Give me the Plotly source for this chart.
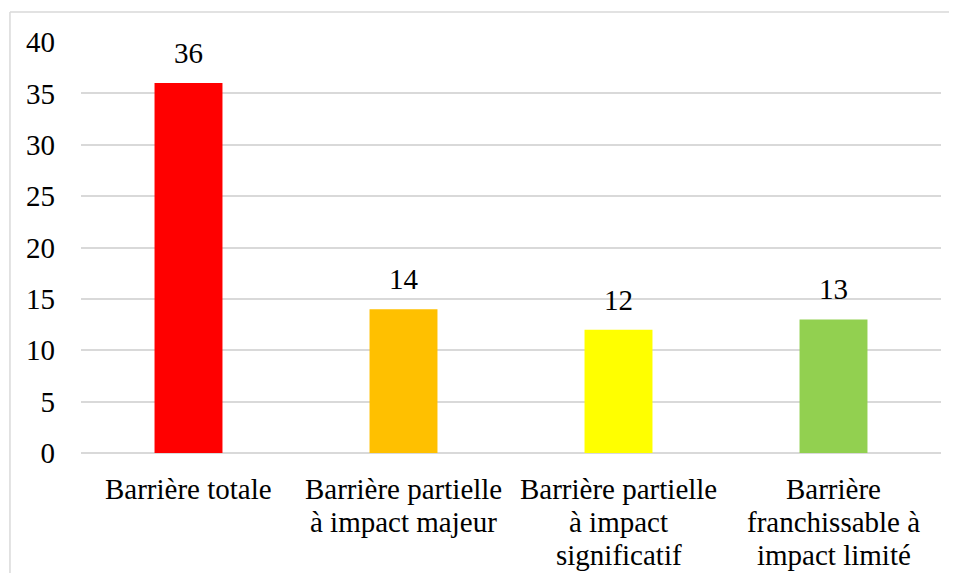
import plotly.graph_objects as go

categories = [
    "Barrière totale",
    "Barrière partielle<br>à impact majeur",
    "Barrière partielle<br>à impact<br>significatif",
    "Barrière<br>franchissable à<br>impact limité",
]
values = [36, 14, 12, 13]
bar_colors = ["#FF0000", "#FFC000", "#FFFF00", "#92D050"]
y_ticks = [0, 5, 10, 15, 20, 25, 30, 35, 40]

FONT = "Liberation Serif, Times New Roman, serif"
GRID = "#D9D9D9"

fig = go.Figure()
fig.add_trace(go.Bar(
    x=categories,
    y=values,
    marker=dict(color=bar_colors, line=dict(width=0)),
    hoverinfo="skip",
))

# value labels above bars
for cat, v in zip(categories, values):
    fig.add_annotation(
        x=cat, y=v, text=str(v),
        showarrow=False, yanchor="bottom", yshift=12,
        font=dict(family=FONT, size=29, color="black"),
    )

# category labels, one annotation per line (tighter line spacing, like Excel)
for cat in categories:
    for i, line in enumerate(cat.split("<br>")):
        fig.add_annotation(
            x=cat, y=0, yref="paper", text=line,
            showarrow=False, yanchor="middle", yshift=-36 - 33 * i,
            font=dict(family=FONT, size=29, color="black"),
        )

fig.update_layout(
    width=941,
    height=565,
    margin=dict(l=73, r=8, t=34, b=120),
    paper_bgcolor="white",
    plot_bgcolor="white",
    bargap=0.684,
    showlegend=False,
    font=dict(family=FONT, size=29, color="black"),
    xaxis=dict(
        showgrid=False,
        showline=False,
        ticks="",
        showticklabels=False,
    ),
    yaxis=dict(
        range=[0, 40],
        tickvals=y_ticks,
        showgrid=True,
        gridcolor=GRID,
        gridwidth=1.5,
        zeroline=True,
        zerolinecolor=GRID,
        zerolinewidth=1.5,
        showline=False,
        ticks="",
        ticklabelstandoff=25,
        tickfont=dict(family=FONT, size=29, color="black"),
    ),
    shapes=[
        dict(type="line", xref="paper", yref="paper",
             x0=-0.0826, x1=1.05, y0=1.073, y1=1.073,
             line=dict(color=GRID, width=1.5)),
        dict(type="line", xref="paper", yref="paper",
             x0=-0.0826, x1=-0.0826, y0=-0.4, y1=1.073,
             line=dict(color=GRID, width=1.5)),
    ],
)

fig.write_html("out.html")
